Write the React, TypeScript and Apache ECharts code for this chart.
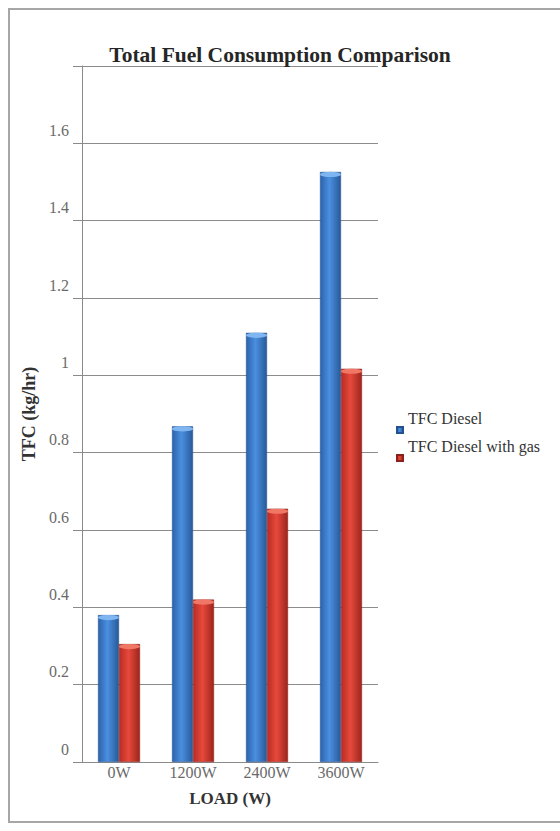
import React, { useEffect, useRef } from "react";
import * as echarts from "echarts";

const loads = ["0W", "1200W", "2400W", "3600W"];
const dieselTfc = [0.38, 0.868, 1.11, 1.526];
const dieselGasTfc = [0.305, 0.42, 0.655, 1.017];
const seriesNames = ["TFC Diesel", "TFC Diesel with gas"];
const yTicks = { min: 0, max: 1.8, interval: 0.2 };

const SERIF = "'Liberation Serif', 'Times New Roman', serif";

function cylinder(left: string, mid: string, right: string) {
  return new echarts.graphic.LinearGradient(0, 0, 1, 0, [
    { offset: 0, color: left },
    { offset: 0.45, color: mid },
    { offset: 1, color: right },
  ]);
}

export default function App() {
  const ref = useRef<HTMLDivElement>(null);

  useEffect(() => {
    if (!ref.current) return;
    const chart = echarts.init(ref.current, undefined, { renderer: "svg" });
    const blue = cylinder("#2b63ab", "#4b8fe0", "#275a98");
    const red = cylinder("#b92b24", "#e6493b", "#9e251e");
    chart.setOption({
      animation: false,
      backgroundColor: "#ffffff",
      title: {
        text: "Total Fuel Consumption Comparison",
        left: "center",
        top: 44,
        padding: 0,
        textStyle: {
          fontFamily: SERIF,
          fontSize: 21.5,
          fontWeight: "bold",
          color: "#262626",
        },
      },
      legend: {
        orient: "vertical",
        left: 396,
        top: 406,
        padding: 0,
        data: seriesNames,
        icon: "rect",
        itemWidth: 6,
        itemHeight: 6,
        itemGap: -20,
        // labels sit half a line above their swatches
        formatter: (name: string) => name + "\n ",
        textStyle: {
          fontFamily: SERIF,
          fontSize: 16,
          lineHeight: 24,
          color: "#333333",
        },
      },
      grid: { left: 82, right: 182, top: 66, bottom: 69 },
      xAxis: {
        type: "category",
        data: loads,
        name: "LOAD (W)",
        nameLocation: "middle",
        nameGap: 28,
        nameTextStyle: {
          fontFamily: SERIF,
          fontSize: 17,
          fontWeight: "bold",
          color: "#333333",
        },
        axisLine: { lineStyle: { color: "#8a8a8a", width: 1 } },
        axisTick: { show: false },
        axisLabel: {
          fontFamily: SERIF,
          fontSize: 16,
          color: "#6a6a6a",
          margin: 2,
        },
      },
      yAxis: {
        type: "value",
        min: yTicks.min,
        max: yTicks.max,
        interval: yTicks.interval,
        name: "TFC (kg/hr)",
        nameLocation: "middle",
        nameGap: 27,
        nameRotate: 90,
        nameTextStyle: {
          fontFamily: SERIF,
          fontSize: 18,
          fontWeight: "bold",
          color: "#333333",
        },
        axisLine: { show: true, lineStyle: { color: "#8a8a8a", width: 1 } },
        axisTick: { show: true, length: 9, lineStyle: { color: "#8a8a8a" } },
        axisLabel: {
          fontFamily: SERIF,
          fontSize: 16,
          lineHeight: 26,
          color: "#6a6a6a",
          margin: 13,
          // tick values are printed just above their grid lines
          formatter: (v: number) =>
            v >= 1.79 ? "" : String(+v.toFixed(1)) + "\n ",
        },
        splitLine: { show: true, lineStyle: { color: "#8c8c8c", width: 1 } },
      },
      series: [
        {
          name: seriesNames[0],
          type: "bar",
          data: dieselTfc,
          barWidth: 21,
          barGap: "0%",
          itemStyle: { color: blue, borderColor: "#245290", borderWidth: 0.5 },
        },
        {
          name: seriesNames[1],
          type: "bar",
          data: dieselGasTfc,
          barWidth: 21,
          barGap: "0%",
          itemStyle: { color: red, borderColor: "#8c211b", borderWidth: 0.5 },
        },
        {
          name: "capDiesel",
          type: "pictorialBar",
          data: dieselTfc,
          symbol: "circle",
          symbolSize: [21, 5],
          symbolPosition: "end",
          symbolOffset: [0, 0],
          barGap: "0%",
          barWidth: 21,
          z: 3,
          itemStyle: { color: "#7fb6f2" },
          silent: true,
        },
        {
          name: "capGas",
          type: "pictorialBar",
          data: dieselGasTfc,
          symbol: "circle",
          symbolSize: [21, 5],
          symbolPosition: "end",
          symbolOffset: [0, 0],
          barGap: "0%",
          barWidth: 21,
          z: 3,
          itemStyle: { color: "#f07766" },
          silent: true,
        },
      ],
      graphic: [
        {
          type: "rect",
          shape: { x: 9, y: 9, width: 560, height: 813 },
          style: { fill: "none", stroke: "#a6a6a6", lineWidth: 2 },
          silent: true,
        },
      ],
    });
    return () => chart.dispose();
  }, []);

  return (
    <div
      ref={ref}
      style={{ position: "fixed", left: 0, top: 0, width: 560, height: 831 }}
    />
  );
}
